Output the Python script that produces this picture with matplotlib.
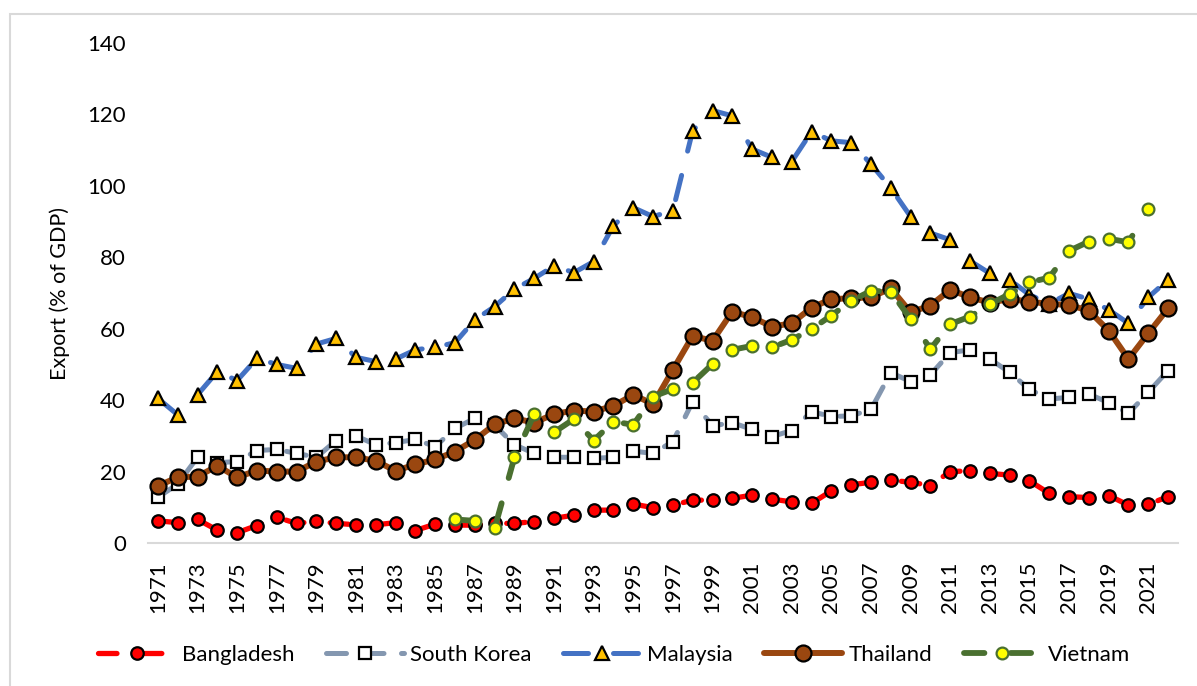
import numpy as np
import matplotlib
matplotlib.use("Agg")
import matplotlib.pyplot as plt
from matplotlib.patches import Rectangle

plt.rcParams['font.family'] = ['Lato', 'DejaVu Sans']

years = list(range(1971, 2023))

bangladesh = [6.2, 5.7, 6.6, 3.6, 2.9, 4.9, 7.2, 5.5, 6.1, 5.5,
              5.1, 5.1, 5.7, 3.5, 5.3, 5.0, 5.0, 5.5, 5.5, 6.0,
              6.9, 7.8, 9.2, 9.2, 10.9, 9.9, 10.6, 12.0, 12.0, 12.5,
              13.4, 12.3, 11.5, 11.1, 14.6, 16.3, 17.0, 17.6, 17.0, 16.1,
              20.0, 20.2, 19.5, 19.0, 17.4, 13.9, 13.0, 12.7, 13.3, 10.6,
              10.8, 13.0]
south_korea = [12.8, 16.5, 24.0, 22.5, 22.8, 25.9, 26.2, 25.1, 24.0, 28.7,
               30.0, 27.5, 28.1, 29.0, 27.0, 32.1, 34.9, 33.0, 27.5, 25.1,
               24.0, 24.0, 23.7, 24.0, 25.7, 25.1, 28.4, 39.6, 32.8, 33.7,
               31.8, 29.8, 31.5, 36.8, 35.4, 35.6, 37.4, 47.7, 45.2, 47.1,
               53.3, 54.1, 51.5, 47.8, 43.0, 40.3, 40.8, 41.7, 39.3, 36.3,
               42.2, 48.3]
malaysia = [40.5, 35.9, 41.5, 48.0, 45.5, 51.7, 50.0, 48.9, 55.7, 57.3,
            52.0, 50.8, 51.5, 54.1, 54.8, 56.1, 62.5, 66.2, 71.1, 74.1,
            77.6, 75.7, 78.8, 88.9, 93.9, 91.4, 93.1, 115.5, 121.1, 119.6,
            110.3, 108.0, 106.8, 115.2, 112.6, 112.1, 106.1, 99.4, 91.4, 86.8,
            84.9, 79.0, 75.5, 73.7, 69.5, 67.0, 69.9, 68.3, 65.3, 61.5,
            68.8, 73.7]
thailand = [16.0, 18.4, 18.6, 21.6, 18.4, 20.3, 20.0, 20.0, 22.8, 24.0,
            24.0, 23.0, 20.2, 22.0, 23.4, 25.6, 28.9, 33.2, 34.9, 33.7,
            36.1, 37.1, 36.8, 38.4, 41.5, 38.9, 48.5, 58.0, 56.6, 64.8,
            63.2, 60.6, 61.5, 65.9, 68.3, 68.5, 68.8, 71.3, 64.6, 66.5,
            70.9, 68.8, 67.3, 68.3, 67.6, 66.9, 66.7, 65.0, 59.5, 51.5,
            58.7, 65.7]
vietnam_years = list(range(1986, 2022))
vietnam = [6.6, 6.2, 4.1, 24.0, 36.1, 31.0, 34.7, 28.7, 34.0, 33.1,
           41.0, 43.1, 44.9, 50.1, 54.1, 55.2, 54.8, 56.9, 59.9, 63.7,
           67.8, 70.6, 70.4, 62.7, 54.3, 61.3, 63.4, 66.9, 69.7, 73.0,
           74.3, 81.8, 84.4, 85.2, 84.2, 93.5]

fig = plt.figure(figsize=(11.97, 6.86), dpi=100)
ax = fig.add_axes([148 / 1197, 1 - 543 / 686, 1030 / 1197, 500 / 686])

common = dict(dash_capstyle='round', solid_capstyle='round', markeredgewidth=1.6)

ax.plot(years, bangladesh, color='#FF0000', lw=3.8, dashes=(3.5, 5),
        marker='o', markersize=9, markerfacecolor='#FF0000',
        markeredgecolor='black', label='Bangladesh', **common)
ax.plot(years, south_korea, color='#8497B0', lw=3.6, dashes=(4, 3.5),
        marker='s', markersize=8.5, markerfacecolor='white',
        markeredgecolor='black', label='South Korea', **common)
ax.plot(years, malaysia, color='#4472C4', lw=3.6, dashes=(5, 5),
        marker='^', markersize=9.5, markerfacecolor='#FFC000',
        markeredgecolor='black', label='Malaysia', **common)
ax.plot(years, thailand, color='#9A4710', lw=4.3,
        marker='o', markersize=11.5, markerfacecolor='#9A4710',
        markeredgecolor='black', label='Thailand', **common)
ax.plot(vietnam_years, vietnam, color='#4A7030', lw=4.2, dashes=(3.5, 4.5),
        marker='o', markersize=8.5, markerfacecolor='#FFFF00',
        markeredgecolor='#4A7030', label='Vietnam', **common)

ax.set_xlim(1970.5, 2022.5)
ax.set_ylim(0, 140)
ax.set_yticks(np.arange(0, 141, 20))
ax.set_xticks(years[::2])
ax.set_xticklabels([str(y) for y in years[::2]], rotation=90)
ax.tick_params(axis='y', length=0, pad=16, labelsize=16)
ax.tick_params(axis='x', length=0, pad=13, labelsize=16)
for side in ['top', 'right', 'left']:
    ax.spines[side].set_visible(False)
ax.spines['bottom'].set_color('#D9D9D9')
ax.spines['bottom'].set_linewidth(1.5)
ax.set_ylabel('Export (% of GDP)', fontsize=15.5, labelpad=12)

ax.legend(loc='center', bbox_to_anchor=(614 / 1197, 1 - 655 / 686),
          bbox_transform=fig.transFigure, ncol=5, frameon=False,
          fontsize=16, handlelength=3.5, numpoints=1, columnspacing=1.4,
          handletextpad=0.3)

# light frame around the chart area
fig.add_artist(Rectangle((10 / 1197, -0.05), 1.1, 1.05 - 14 / 686,
                         transform=fig.transFigure, fill=False,
                         edgecolor='#D9D9D9', lw=1.5))

fig.savefig('out.png', dpi=100)
